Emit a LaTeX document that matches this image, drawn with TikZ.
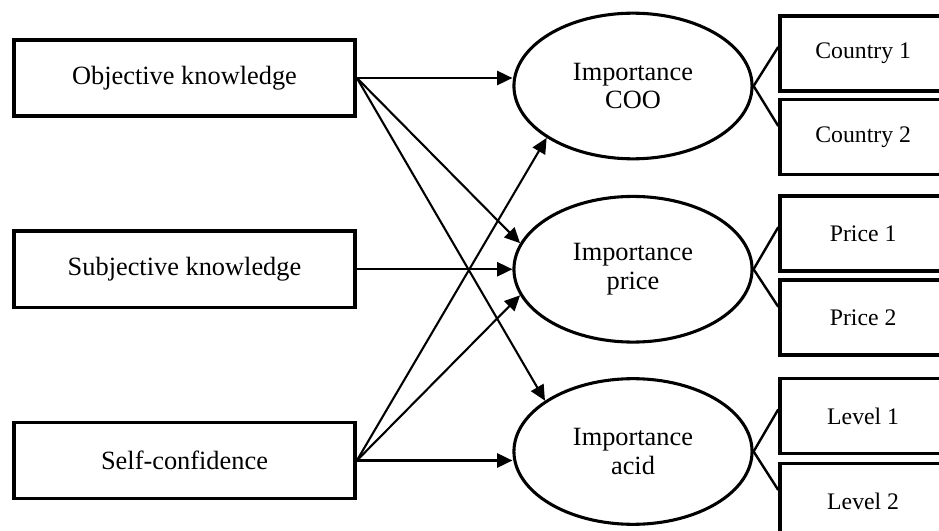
\documentclass[tikz,border=0pt]{standalone}
\usepackage{fontspec}
\setmainfont{Liberation Serif}
\usetikzlibrary{arrows.meta,shapes.geometric}
\usetikzlibrary{positioning}
\tikzset{
    predictor/.style={
           rectangle,
           draw=black,
           line width=1.6pt,
           minimum width=5.46cm,
           minimum height=1.22cm,
           inner sep=2pt,
           font=\fontsize{12}{13.5}\selectfont,
           text centered,
           },
    latent/.style={
           ellipse,
           draw=black,
           line width=1.4pt,
           minimum width=3.81cm,
           minimum height=2.33cm,
           inner sep=0pt,
           align=center,
           font=\fontsize{12}{13.2}\selectfont,
           },
    indicator/.style={
           rectangle,
           draw=black,
           line width=1.6pt,
           minimum width=2.66cm,
           minimum height=1.2cm,
           inner sep=2pt,
           font=\fontsize{10.8}{12}\selectfont,
           text centered,
           },
}

\begin{document}
\begin{tikzpicture}[->,>={Triangle[length=7pt,width=6.5pt]},line width=0.95pt]

 \useasboundingbox (0,0) rectangle (15.024,-8.496);

 \node[predictor] (OK) at (2.952,-1.248) {Objective knowledge};

 \node[predictor,
 node distance=3.06cm,
 below of=OK,
 ] (SK) {Subjective knowledge};

 \node[predictor,
 node distance=3.06cm,
 below of=SK,
 ] (SC) {Self-confidence};

 \node[latent,
 node distance=7.176cm,
 right of=OK,
 yshift=-0.128cm,
 ] (COO) {Importance\\COO};

 \node[latent,
 node distance=7.176cm,
 right of=SK,
 ] (PRICE) {Importance\\price};

 \node[latent,
 node distance=7.176cm,
 right of=SC,
 yshift=0.144cm,
 ] (ACID) {Importance\\acid};

 \node[indicator, node distance=3.682cm, right of=COO, yshift=0.52cm] (C1) {Country 1};
 \node[indicator, node distance=3.682cm, right of=COO, yshift=-0.816cm] (C2) {Country 2};
 \node[indicator, node distance=3.682cm, right of=PRICE, yshift=0.568cm] (P1) {Price 1};
 \node[indicator, node distance=3.682cm, right of=PRICE, yshift=-0.776cm] (P2) {Price 2};
 \node[indicator, node distance=3.682cm, right of=ACID, yshift=0.568cm] (L1) {Level 1};
 \node[indicator, node distance=3.682cm, right of=ACID, yshift=-0.792cm] (L2) {Level 2};

 \path (OK.east) edge (OK.east -| COO.west)
   (OK.east) edge (PRICE.167)
   (OK.east) edge (ACID.150)
   (SK.east) edge (PRICE.west)
   (SC.east) edge (COO.211)
   (SC.east) edge (PRICE.193)
   (SC.east) edge (SC.east -| ACID.west)
 ;

 % indicators
 \draw[-,line width=1.1pt] ([yshift=3pt]C1.west) -- (COO.east) -- ([yshift=5pt]C2.west);
 \draw[-,line width=1.1pt] ([yshift=3pt]P1.west) -- (PRICE.east) -- ([yshift=5pt]P2.west);
 \draw[-,line width=1.1pt] ([yshift=3pt]L1.west) -- (ACID.east) -- ([yshift=5pt]L2.west);
\end{tikzpicture}
\end{document}
